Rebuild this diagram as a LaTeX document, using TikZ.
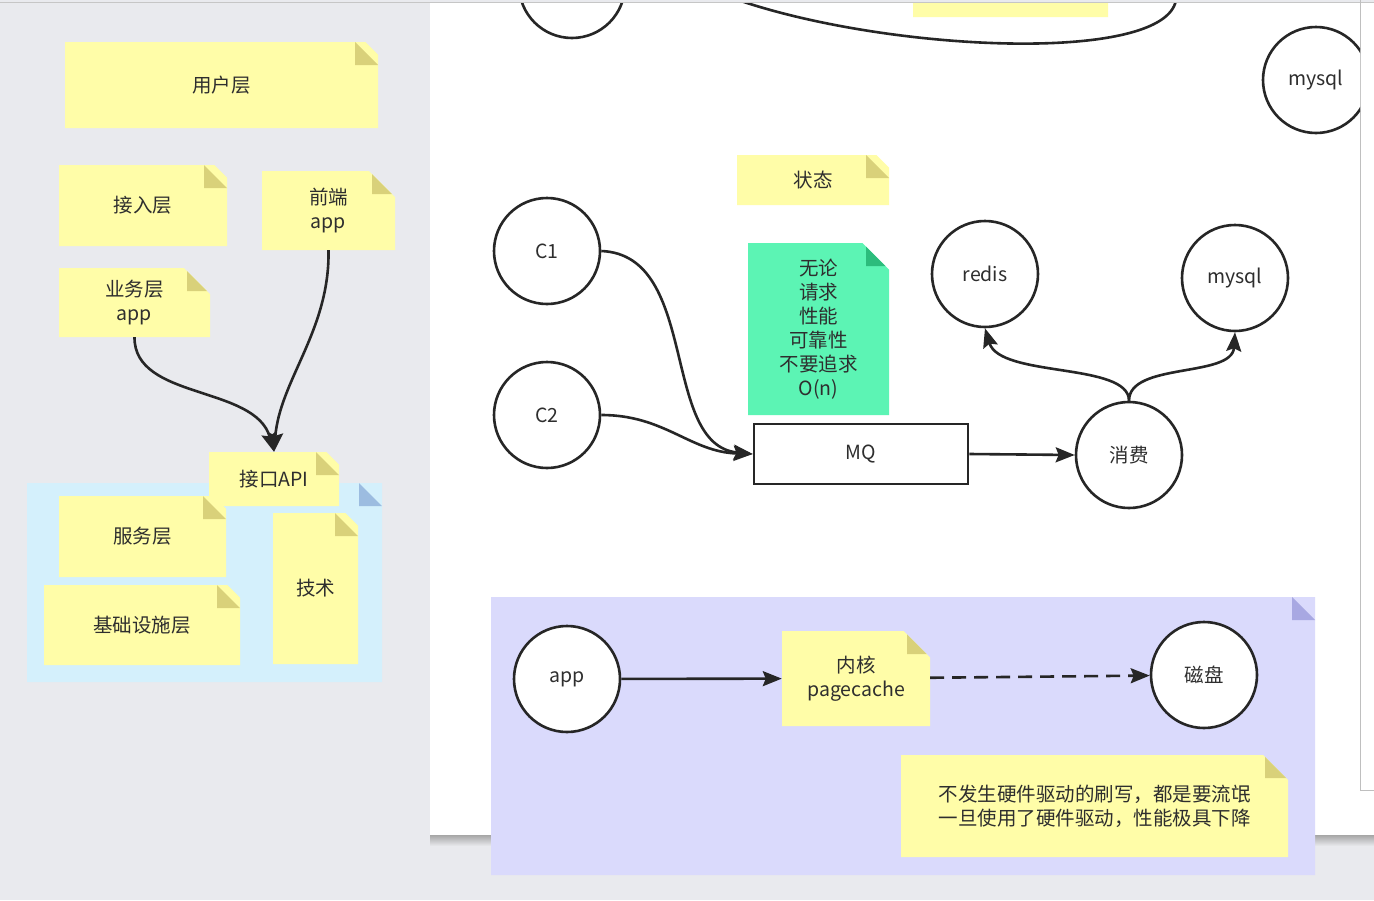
\documentclass[tikz,border=0pt]{standalone}
\usepackage{fontspec}
\setmainfont{Noto Sans CJK SC}
\usetikzlibrary{arrows.meta,shapes.misc}

\definecolor{bggray}{HTML}{E9EAEE}
\definecolor{noteyellow}{HTML}{FFFDA8}
\definecolor{foldyellow}{HTML}{D9D17A}
\definecolor{techblue}{HTML}{D4F0FC}
\definecolor{foldblue}{HTML}{9CBCE0}
\definecolor{rulegreen}{HTML}{5CF4B4}
\definecolor{foldgreen}{HTML}{2CBC7C}
\definecolor{diskpurple}{HTML}{DADAFC}
\definecolor{foldpurple}{HTML}{A8A8E2}
\definecolor{inkgray}{HTML}{2E2E2E}

\newcommand{\notefont}{\fontsize{19.5}{24}\selectfont}

\begin{document}
\begin{tikzpicture}[
  x=1pt, y=-1pt,
  note/.style 2 args={chamfered rectangle, chamfered rectangle corners=north east,
    chamfered rectangle xsep=23pt, fill=#1, inner sep=0pt, text=inkgray, align=center, font=\notefont,
    path picture={\fill[#2] ([xshift=-23pt]path picture bounding box.north east)
      -- ([yshift=-23pt]path picture bounding box.north east)
      -- ([xshift=-23pt,yshift=-23pt]path picture bounding box.north east) -- cycle;}},
  yellownote/.style={note={noteyellow}{foldyellow}},
  ball/.style={circle, draw=black!85, line width=2.6pt, fill=white, minimum size=106pt, inner sep=0pt, text=inkgray, font=\notefont},
  queue/.style={rectangle, draw=black!85, line width=2.6pt, fill=white, minimum width=214pt, minimum height=60pt, text=inkgray, font=\notefont},
  flow/.style={line width=2.6pt, draw=black!85, -{Stealth[length=19pt,width=15pt,inset=3pt]}}
]
  \useasboundingbox (0,0) rectangle (1374,900);

  % ==================== BACKGROUND ====================
  \fill[bggray] (0,0) rectangle (1374,900);
  \fill[white] (430,3) rectangle (1374,835);
  \shade[top color=black!35, bottom color=bggray] (430,835) rectangle (1374,846);
  \draw[gray!45, line width=1pt] (0,2) -- (1374,2);
  \draw[gray!50, line width=1pt] (1360,0) -- (1360,790) -- (1374,790);

  % ==================== LEFT: LAYERS ====================
  \node[yellownote, minimum width=313pt, minimum height=86pt] (user) at (221.5,85) {用户层};
  \node[yellownote, minimum width=168pt, minimum height=81pt] (access) at (143,205.5) {接入层};
  \node[yellownote, minimum width=133pt, minimum height=79pt] (front) at (328.5,210.5) {前端\\app};
  \node[yellownote, minimum width=151pt, minimum height=69pt] (biz) at (134.5,302.5) {业务层\\app};

  \node[note={techblue}{foldblue}, minimum width=355pt, minimum height=199pt] (techbox) at (204.5,582.5) {};
  \node[yellownote, minimum width=130pt, minimum height=54pt] (api) at (274,479) {接口API};
  \node[yellownote, minimum width=167pt, minimum height=81pt] (service) at (142.5,536.5) {服务层};
  \node[yellownote, minimum width=196pt, minimum height=80pt] (infra) at (142,625) {基础设施层};
  \node[yellownote, minimum width=85pt, minimum height=151pt] (tech) at (315.5,588.5) {技术};

  \draw[flow] (biz.south) .. controls (134,400) and (255,385) .. (api.north);
  \draw[flow] (front.south) .. controls (330,330) and (280,380) .. (api.north);

  % ==================== CANVAS: TOP (cut off) ====================
  \begin{scope}
    \clip (430,3) rectangle (1360,835);
    \node[ball] (topball) at (572,-15) {};
    \coordinate (flowin) at (738,0);
    \coordinate (flowout) at (1176,0);
    \draw[line width=2.6pt, draw=black!85] (flowin) .. controls (890,52) and (1165,64) .. (flowout);
    \node[yellownote, minimum width=195pt, minimum height=40pt] (topnote) at (1010.5,-3) {};
    \node[ball] (mysqltop) at (1316,80) {mysql};
  \end{scope}

  % ==================== CANVAS: MQ ====================
  \node[yellownote, minimum width=152pt, minimum height=50pt] (state) at (813,180) {状态};
  \node[note={rulegreen}{foldgreen}, minimum width=141pt, minimum height=172pt] (rule) at (818.5,329)
    {无论\\请求\\性能\\可靠性\\不要追求\\O(n)};

  \node[ball] (c1) at (547,251) {C1};
  \node[ball] (c2) at (547,415) {C2};
  \node[queue] (mq) at (861,454) {MQ};
  \node[ball] (consume) at (1129,455) {消费};
  \node[ball] (redis) at (985,274) {redis};
  \node[ball] (mysql) at (1235,278) {mysql};

  \draw[flow] (c1.east) .. controls (700,255) and (660,445) .. (mq.west);
  \draw[flow] (c2.east) .. controls (665,415) and (690,452) .. (mq.west);
  \draw[flow] (mq.east) -- (consume.west);
  \draw[flow] (consume.north) .. controls (1129,362) and (1000,378) .. (redis.south);
  \draw[flow] (consume.north) .. controls (1129,362) and (1232,378) .. (mysql.south);

  % ==================== PAGECACHE ====================
  \node[note={diskpurple}{foldpurple}, minimum width=824pt, minimum height=278pt] (kernel) at (903,736) {};
  \node[ball] (app) at (567,679) {app};
  \node[yellownote, minimum width=148pt, minimum height=95pt] (cache) at (856,678.5) {内核\\pagecache};
  \node[ball] (disk) at (1204,675) {磁盘};
  \node[yellownote, minimum width=387pt, minimum height=102pt] (tip) at (1094.5,806)
    {不发生硬件驱动的刷写，都是要流氓\\一旦使用了硬件驱动，性能极具下降};

  \draw[flow] (app) -- (cache);
  \draw[flow, dash pattern=on 14pt off 8pt] (cache) -- (disk);

\end{tikzpicture}
\end{document}
